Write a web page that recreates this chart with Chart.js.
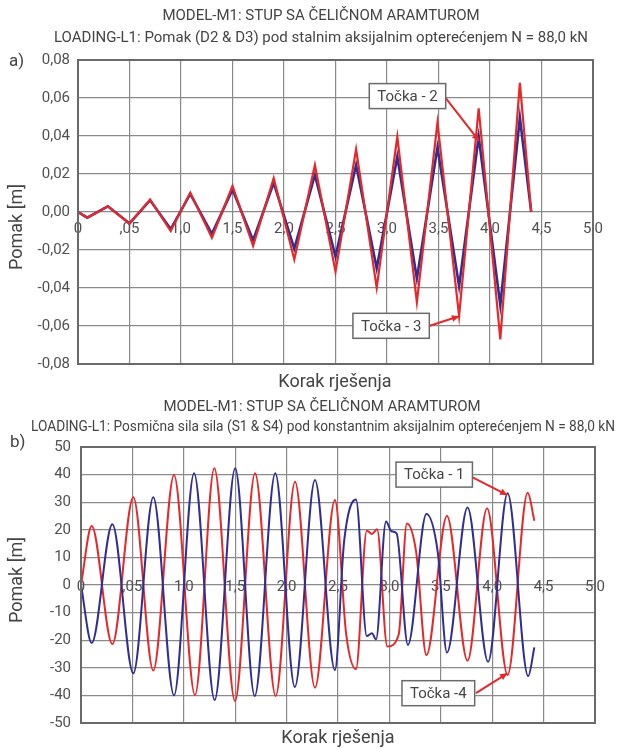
<!DOCTYPE html>
<html>
<head>
<meta charset="utf-8">
<script src="https://cdn.jsdelivr.net/npm/chart.js@4"></script>
<style>
  html, body { margin: 0; padding: 0; background: #fff; }
  .box { position: absolute; left: 0; width: 618px; }
</style>
</head>
<body>
<div style="position:relative;width:618px;height:749px">
  <div class="box" style="top:0;height:395px"><canvas id="pomakChart" width="618" height="395"></canvas></div>
  <div class="box" style="top:395px;height:354px"><canvas id="silaChart" width="618" height="354"></canvas></div>
</div>
<script>
// tick labels (as printed in the figure)
var xTickLabels = ['0', ',05', '1,0', '1,5', '2,0', '2,5', '3,0', '3,5', '4,0', '4,5', '5,0'];
var pomakYTicks = ['-0,08', '-0,06', '-0,04', '-0,02', '0,00', '0,02', '0,04', '0,06', '0,08'];
var silaYTicks = ['-50', '-40', '-30', '-20', '-10', '0', '10', '20', '30', '40', '50'];

// a) Pomak - korak rjesenja / pomak [m]
var korakA = [0, 0.09, 0.29, 0.50, 0.70, 0.90, 1.09, 1.30, 1.50, 1.70, 1.90, 2.10, 2.30, 2.50, 2.70, 2.90, 3.10, 3.29, 3.49, 3.70, 3.89, 4.10, 4.29, 4.40];
var pomakTocka3 = [0, -0.003, 0.003, -0.006, 0.0066, -0.0100, 0.0102, -0.0135, 0.0137, -0.0178, 0.0178, -0.0250, 0.0247, -0.0314, 0.0330, -0.0398, 0.0396, -0.0475, 0.0470, -0.0547, 0.0546, -0.0670, 0.0680, 0.0];
var pomakTocka2 = [0, -0.003, 0.003, -0.006, 0.0062, -0.0090, 0.0095, -0.0115, 0.0118, -0.0149, 0.0153, -0.0193, 0.0195, -0.0235, 0.0247, -0.0296, 0.0291, -0.0350, 0.0340, -0.0390, 0.0396, -0.0490, 0.0496, 0.0];

// b) Posmicna sila
var korakS1 = [0, 0.104, 0.305, 0.509, 0.703, 0.905, 1.10, 1.30, 1.50, 1.69, 1.89, 2.08, 2.276, 2.47, 2.56, 2.675, 2.78, 2.83, 2.87, 2.967, 3.02, 3.07, 3.18, 3.36, 3.47, 3.56, 3.76, 3.96, 4.15, 4.35, 4.41];
var silaS1 = [0, -21, 22, -32, 31.8, -40, 40.5, -41.7, 42.3, -40.2, 40.5, -37, 38, -30.8, 16, 31, -18.5, -17.5, -19.7, 23, 19.5, 18.7, -21.7, 25.7, 12, -24.5, 28.1, -27.8, 33.2, -33, -22.6];
var korakS4 = [0, 0.104, 0.305, 0.509, 0.703, 0.905, 1.109, 1.297, 1.498, 1.693, 1.894, 2.082, 2.276, 2.47, 2.58, 2.675, 2.78, 2.83, 2.88, 2.98, 3.09, 3.17, 3.26, 3.36, 3.56, 3.76, 3.95, 4.15, 4.345, 4.41];
var silaS4 = [0, 21.4, -21.4, 31.8, -31, 39.9, -39.9, 42.3, -42, 40.5, -40.2, 37.4, -37.2, 30.8, -18, -30.5, 19.7, 18.5, 20.2, -22.3, -18, 22.3, 12, -25.4, 25, -27.4, 27.8, -32.6, 33.4, 23.3];

var RED = 'rgb(229,40,42)';
var BLUE = 'rgb(48,46,146)';
var FONT = 'Roboto';

function pts(xs, ys) {
  return xs.map(function (x, i) { return {x: x, y: ys[i]}; });
}

var decoPlugin = {
  id: 'deco',
  afterDraw: function (chart, args, opts) {
    var ctx = chart.ctx, a = chart.chartArea;
    var xs = chart.scales.x, ys = chart.scales.y;
    ctx.save();
    ctx.strokeStyle = '#6a6a6a';
    ctx.lineWidth = 2;
    ctx.strokeRect(a.left, a.top, a.right - a.left, a.bottom - a.top);

    (opts.notes || []).forEach(function (n) {
      var fx = xs.getPixelForValue(n.from[0]), fy = ys.getPixelForValue(n.from[1]);
      var tx = xs.getPixelForValue(n.tip[0]), ty = ys.getPixelForValue(n.tip[1]);
      ctx.strokeStyle = RED; ctx.fillStyle = RED; ctx.lineWidth = 2;
      ctx.beginPath(); ctx.moveTo(fx, fy); ctx.lineTo(tx, ty); ctx.stroke();
      var ang = Math.atan2(ty - fy, tx - fx);
      ctx.beginPath();
      ctx.moveTo(tx, ty);
      ctx.lineTo(tx - 8 * Math.cos(ang - 0.45), ty - 8 * Math.sin(ang - 0.45));
      ctx.lineTo(tx - 8 * Math.cos(ang + 0.45), ty - 8 * Math.sin(ang + 0.45));
      ctx.closePath(); ctx.fill();

      var bx = xs.getPixelForValue(n.box[0]), by = ys.getPixelForValue(n.box[1]);
      ctx.font = '15px ' + FONT;
      var w = ctx.measureText(n.text).width + 16, h = 25;
      ctx.fillStyle = '#fff';
      ctx.fillRect(bx - w / 2, by - h / 2, w, h);
      ctx.strokeStyle = '#6a6a6a'; ctx.lineWidth = 1.5;
      ctx.strokeRect(bx - w / 2, by - h / 2, w, h);
      ctx.fillStyle = '#444';
      ctx.textAlign = 'center'; ctx.textBaseline = 'middle';
      ctx.fillText(n.text, bx, by + 1);
    });

    (opts.texts || []).forEach(function (t) {
      ctx.save();
      ctx.font = t.size + 'px ' + FONT;
      ctx.fillStyle = '#444';
      ctx.textAlign = t.align || 'center';
      ctx.textBaseline = 'middle';
      ctx.translate(t.x, t.y);
      if (t.rot) ctx.rotate(t.rot);
      if (t.w) ctx.fillText(t.text, 0, 0, t.w); else ctx.fillText(t.text, 0, 0);
      ctx.restore();
    });
    ctx.restore();
  }
};

function makeOptions(cfg) {
  return {
    responsive: false,
    animation: false,
    layout: {padding: {left: 0, right: cfg.right, top: cfg.top, bottom: cfg.bottom}},
    plugins: {
      legend: {display: false},
      tooltip: {enabled: false},
      deco: {texts: cfg.texts, notes: cfg.notes}
    },
    scales: {
      x: {
        type: 'linear', min: 0, max: 5,
        position: {y: 0},
        grid: {color: '#8a8a8a', lineWidth: 1.2, drawTicks: false},
        border: {display: false},
        ticks: {
          stepSize: 0.5, autoSkip: false, maxRotation: 0, padding: cfg.xPad,
          color: '#505050', font: {family: FONT, size: 15},
          callback: function (v, i) { return xTickLabels[i]; }
        },
        afterFit: function (s) { s.paddingLeft = 0; s.paddingRight = 0; }
      },
      y: {
        type: 'linear', min: cfg.yMin, max: cfg.yMax,
        grid: {color: '#8a8a8a', lineWidth: 1.2, drawTicks: false},
        border: {display: false},
        ticks: {
          stepSize: cfg.yStep, padding: cfg.yPad,
          color: '#505050', font: {family: FONT, size: 15},
          callback: function (v, i) { return cfg.yLabels[i]; }
        },
        afterFit: function (s) { s.width = cfg.yWidth; s.paddingTop = 0; s.paddingBottom = 0; }
      }
    }
  };
}

new Chart(document.getElementById('pomakChart'), {
  type: 'line',
  data: {
    datasets: [
      {data: pts(korakA, pomakTocka3), borderColor: RED, borderWidth: 2.2, pointRadius: 0, tension: 0},
      {data: pts(korakA, pomakTocka2), borderColor: BLUE, borderWidth: 2.6, pointRadius: 0, tension: 0}
    ]
  },
  options: makeOptions({
    top: 60, bottom: 31, right: 25, yWidth: 78, yPad: 8, xPad: 8,
    yMin: -0.08, yMax: 0.08, yStep: 0.02, yLabels: pomakYTicks,
    texts: [
      {text: 'MODEL-M1: STUP SA ČELIČNOM ARAMTUROM', x: 321, y: 16, size: 15, w: 321},
      {text: 'LOADING-L1: Pomak (D2 & D3) pod stalnim aksijalnim opterećenjem N = 88,0 kN', x: 321, y: 38, size: 15, w: 551},
      {text: 'a)', x: 9, y: 62, size: 17, align: 'left'},
      {text: 'Pomak [m]', x: 17, y: 227, size: 18, rot: -Math.PI / 2},
      {text: 'Korak rješenja', x: 335, y: 382, size: 18}
    ],
    notes: [
      {text: 'Točka - 2', box: [3.199, 0.061], from: [3.563, 0.0605], tip: [3.894, 0.0374]},
      {text: 'Točka - 3', box: [3.04, -0.0599], from: [3.408, -0.060], tip: [3.70, -0.0549]}
    ]
  }),
  plugins: [decoPlugin]
});

new Chart(document.getElementById('silaChart'), {
  type: 'line',
  data: {
    datasets: [
      {data: pts(korakS1, silaS1), borderColor: BLUE, borderWidth: 2, pointRadius: 0, cubicInterpolationMode: 'monotone'},
      {data: pts(korakS4, silaS4), borderColor: RED, borderWidth: 2, pointRadius: 0, cubicInterpolationMode: 'monotone'}
    ]
  },
  options: makeOptions({
    top: 52, bottom: 26, right: 23, yWidth: 81, yPad: 10, xPad: -7,
    yMin: -50, yMax: 50, yStep: 10, yLabels: silaYTicks,
    texts: [
      {text: 'MODEL-M1: STUP SA ČELIČNOM ARAMTUROM', x: 322, y: 12, size: 15, w: 319},
      {text: 'LOADING-L1: Posmična sila sila (S1 & S4) pod konstantnim aksijalnim opterećenjem N = 88,0 kN', x: 323, y: 32, size: 15, w: 584},
      {text: 'b)', x: 10, y: 48, size: 17, align: 'left'},
      {text: 'Pomak [m]', x: 17, y: 185, size: 18, rot: -Math.PI / 2},
      {text: 'Korak rješenja', x: 338, y: 343, size: 18}
    ],
    notes: [
      {text: 'Točka - 1', box: [3.436, 40.0], from: [3.80, 39.2], tip: [4.147, 32.6]},
      {text: 'Točka -4', box: [3.476, -39.2], from: [3.842, -39.2], tip: [4.147, -32.0]}
    ]
  }),
  plugins: [decoPlugin]
});
</script>
</body>
</html>
